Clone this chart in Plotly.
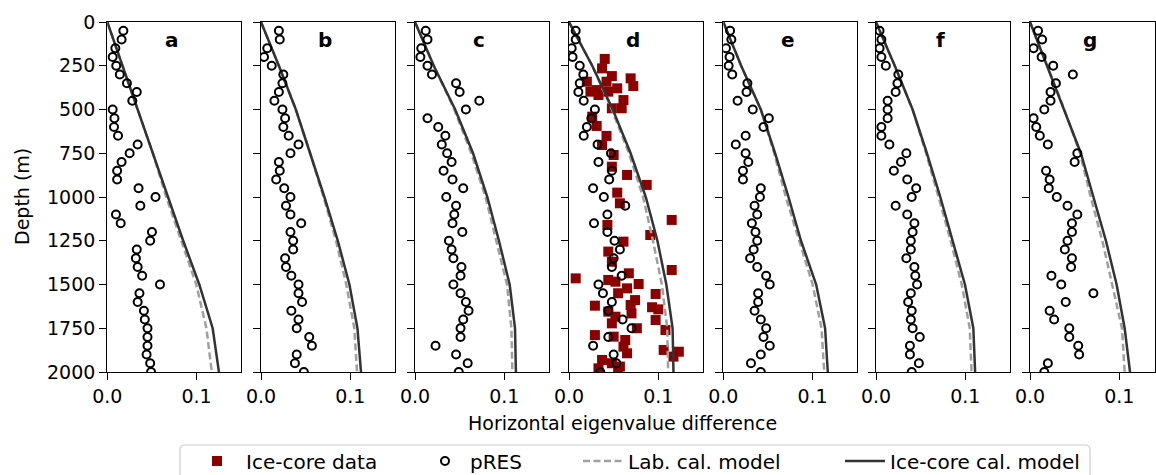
import plotly.graph_objects as go

# ---------------- data ----------------
panel_labels = ["a", "b", "c", "d", "e", "f", "g"]

pres_depth = [50, 100, 150, 200, 250, 300, 350, 400, 450, 500,
              550, 600, 650, 700, 750, 800, 850, 900, 950, 1000,
              1050, 1100, 1150, 1200, 1250, 1300, 1350, 1400, 1450, 1500,
              1550, 1600, 1650, 1700, 1750, 1800, 1850, 1900, 1950, 2000]

pres_a = [0.018, 0.016, 0.009, 0.006, 0.010, 0.014, 0.022, 0.033, 0.028, 0.006,
          0.008, 0.0075, 0.012, 0.034, 0.025, 0.016, 0.011, 0.011, 0.035, 0.054,
          0.037, 0.0097, 0.015, 0.050, 0.048, 0.033, 0.032, 0.034, 0.039, 0.059,
          0.036, 0.034, 0.041, 0.042, 0.045, 0.045, 0.045, 0.044, 0.048, 0.049]
pres_b = [0.020, 0.021, 0.007, 0.0034, 0.012, 0.025, 0.024, 0.020, 0.015, 0.024,
          0.027, 0.025, 0.031, 0.042, 0.033, 0.020, 0.021, 0.017, 0.026, 0.033,
          0.028, 0.033, 0.045, 0.033, 0.036, 0.036, 0.027, 0.028, 0.034, 0.042,
          0.042, 0.046, 0.034, 0.042, 0.040, 0.054, 0.057, 0.040, 0.038, 0.048]
pres_c = [0.012, 0.014, 0.007, 0.006, 0.014, 0.019, 0.046, 0.050, 0.072, 0.057,
          0.014, 0.026, 0.034, 0.030, 0.036, 0.041, 0.032, 0.042, 0.054, 0.035,
          0.046, 0.044, 0.042, 0.053, 0.038, 0.041, 0.043, 0.052, 0.051, 0.043,
          0.051, 0.057, 0.060, 0.054, 0.051, 0.051, 0.023, 0.046, 0.059, 0.049]
pres_d = [0.0075, 0.0075, 0.003, 0.004, 0.012, 0.016, 0.012, 0.0105, 0.0165, 0.029,
          0.025, 0.020, 0.0165, 0.032, 0.047, 0.033, 0.048, 0.045, 0.027, 0.039,
          0.063, 0.043, 0.028, 0.043, 0.051, 0.057, 0.050, 0.048, 0.059, 0.033,
          0.038, 0.048, 0.044, 0.060, 0.070, 0.044, 0.027, 0.050, 0.053, 0.035]
pres_e = [0.0076, 0.009, 0.003, 0.007, 0.006, 0.010, 0.027, 0.026, 0.016, 0.033,
          0.051, 0.045, 0.025, 0.014, 0.025, 0.028, 0.022, 0.022, 0.042, 0.041,
          0.035, 0.038, 0.032, 0.036, 0.038, 0.034, 0.030, 0.038, 0.048, 0.052,
          0.039, 0.039, 0.035, 0.042, 0.048, 0.045, 0.052, 0.042, 0.031, 0.042]
pres_f = [0.004, 0.006, 0.004, 0.006, 0.011, 0.025, 0.024, 0.022, 0.013, 0.013,
          0.013, 0.006, 0.006, 0.015, 0.034, 0.028, 0.020, 0.035, 0.045, 0.040,
          0.022, 0.035, 0.043, 0.041, 0.039, 0.039, 0.034, 0.043, 0.044, 0.046,
          0.039, 0.036, 0.040, 0.039, 0.041, 0.049, 0.038, 0.038, 0.048, 0.040]
pres_g = [0.009, 0.0136, 0.004, 0.013, 0.026, 0.048, 0.029, 0.023, 0.023, 0.016,
          0.004, 0.007, 0.011, 0.020, 0.053, 0.050, 0.018, 0.022, 0.021, 0.030,
          0.042, 0.053, 0.047, 0.047, 0.042, 0.039, 0.047, 0.046, 0.024, 0.035,
          0.071, 0.040, 0.022, 0.027, 0.044, 0.044, 0.054, 0.055, 0.020, 0.016]

# ice-core measurements (panel d only)
core_depth = [211, 265, 309, 322, 341, 341, 366, 379, 389, 398,
              398, 417, 446, 493, 493, 541, 594, 651, 703, 760,
              827, 874, 931, 975, 1036, 1131, 1160, 1217, 1255, 1312,
              1370, 1417, 1436, 1465, 1474, 1484, 1497, 1522, 1550, 1554,
              1589, 1617, 1621, 1630, 1642, 1655, 1665, 1684, 1703, 1722,
              1750, 1760, 1789, 1798, 1817, 1855, 1874, 1884, 1893, 1912,
              1931, 1950, 1969, 1979, 1990]
core_value = [0.040, 0.037, 0.048, 0.069, 0.020, 0.042, 0.072, 0.054, 0.031, 0.024,
              0.044, 0.033, 0.061, 0.059, 0.048, 0.026, 0.031, 0.042, 0.037, 0.050,
              0.048, 0.065, 0.087, 0.054, 0.057, 0.115, 0.043, 0.091, 0.061, 0.044,
              0.048, 0.115, 0.067, 0.0075, 0.044, 0.052, 0.078, 0.065, 0.055, 0.097,
              0.074, 0.069, 0.029, 0.093, 0.100, 0.044, 0.070, 0.052, 0.097, 0.048,
              0.076, 0.108, 0.029, 0.050, 0.063, 0.061, 0.106, 0.123, 0.065, 0.117,
              0.037, 0.048, 0.057, 0.033, 0.055]

model_depth = [0, 250, 500, 750, 1000, 1250, 1500, 1750, 2000]
icecal_a = [0, 0.017, 0.034, 0.051, 0.068, 0.085, 0.103, 0.118, 0.125]
labcal_a = [0, 0.017, 0.034, 0.051, 0.066, 0.0825, 0.0996, 0.111, 0.117]
icecal_b = [0, 0.020, 0.039, 0.055, 0.071, 0.086, 0.099, 0.108, 0.112]
labcal_b = [0, 0.020, 0.039, 0.055, 0.070, 0.084, 0.0955, 0.1045, 0.1075]
icecal_c = [0, 0.021, 0.045, 0.065, 0.081, 0.094, 0.106, 0.112, 0.113]
labcal_c = [0, 0.021, 0.044, 0.063, 0.079, 0.091, 0.103, 0.108, 0.109]
icecal_d = [0, 0.026, 0.049, 0.069, 0.086, 0.099, 0.109, 0.116, 0.117]
labcal_d = [0, 0.026, 0.048, 0.067, 0.083, 0.094, 0.104, 0.110, 0.111]
icecal_e = [0, 0.020, 0.042, 0.058, 0.073, 0.087, 0.104, 0.114, 0.117]
labcal_e = [0, 0.020, 0.042, 0.057, 0.070, 0.085, 0.100, 0.110, 0.113]
icecal_f = [0, 0.021, 0.041, 0.057, 0.072, 0.086, 0.0996, 0.109, 0.111]
labcal_f = [0, 0.021, 0.041, 0.056, 0.070, 0.0836, 0.096, 0.105, 0.107]
icecal_g = [0, 0.019, 0.0385, 0.057, 0.071, 0.085, 0.097, 0.106, 0.112]
labcal_g = [0, 0.019, 0.0385, 0.056, 0.068, 0.081, 0.092, 0.103, 0.106]

pres_all = [pres_a, pres_b, pres_c, pres_d, pres_e, pres_f, pres_g]
icecal_all = [icecal_a, icecal_b, icecal_c, icecal_d, icecal_e, icecal_f, icecal_g]
labcal_all = [labcal_a, labcal_b, labcal_c, labcal_d, labcal_e, labcal_f, labcal_g]

depth_ticks = [0, 250, 500, 750, 1000, 1250, 1500, 1750, 2000]
x_ticks = [0.0, 0.1]
x_ticktext = ["0.0", "0.1"]

# ---------------- styling / layout ----------------
W, H = 1156, 475
FONT = "DejaVu Sans"
FS = 19
RED = "#8b0000"
DARK = "#333333"
GREY = "#a0a0a0"

panel_left = [107.3, 261, 415, 569, 723.3, 876, 1030]
panel_w = 134
px_per_unit = 893.0
y_top, y_bot = 22, 372

fig = go.Figure()

for i in range(7):
    xa = "x" if i == 0 else f"x{i+1}"
    ya = "y" if i == 0 else f"y{i+1}"
    is_d = (i == 3)
    if is_d:
        fig.add_trace(go.Scatter(
            x=core_value, y=core_depth, xaxis=xa, yaxis=ya, mode="markers",
            marker=dict(symbol="square", size=10, color=RED, line=dict(width=0)),
            name="Ice-core data", legend="legend", showlegend=True))
    fig.add_trace(go.Scatter(
        x=labcal_all[i], y=model_depth, xaxis=xa, yaxis=ya, mode="lines",
        line=dict(color=GREY, width=2.5, dash="7px,3.5px"),
        name="Lab. cal. model", legend="legend3", showlegend=is_d))
    fig.add_trace(go.Scatter(
        x=icecal_all[i], y=model_depth, xaxis=xa, yaxis=ya, mode="lines",
        line=dict(color=DARK, width=2.5),
        name="Ice-core cal. model", legend="legend4", showlegend=is_d))
    fig.add_trace(go.Scatter(
        x=pres_all[i], y=pres_depth, xaxis=xa, yaxis=ya, mode="markers",
        marker=dict(symbol="circle", size=8, color="rgba(0,0,0,0)",
                    line=dict(color="black", width=2)),
        name="pRES", legend="legend2", showlegend=is_d))

ydom = [(H - y_bot) / H, (H - y_top) / H]
for i in range(7):
    left = panel_left[i]
    right = min(left + panel_w, W - 1)
    xmax = (right - left) / px_per_unit
    xkey = "xaxis" if i == 0 else f"xaxis{i+1}"
    ykey = "yaxis" if i == 0 else f"yaxis{i+1}"
    xa_anchor = "y" if i == 0 else f"y{i+1}"
    ya_anchor = "x" if i == 0 else f"x{i+1}"
    fig.layout[xkey] = dict(
        domain=[left / W, right / W], anchor=xa_anchor, range=[0, xmax],
        tickvals=x_ticks, ticktext=x_ticktext, ticks="outside", ticklen=7,
        tickwidth=1.3, tickcolor="black", showline=True, linecolor="black",
        linewidth=1.3, mirror=True, showgrid=False, zeroline=False,
        tickfont=dict(family=FONT, size=FS, color="black"))
    fig.layout[ykey] = dict(
        domain=ydom, anchor=ya_anchor, range=[2000, 0],
        tickvals=depth_ticks, ticks="outside", ticklen=7, tickwidth=1.3,
        tickcolor="black", showline=True, linecolor="black", linewidth=1.3,
        mirror=True, showgrid=False, zeroline=False, showticklabels=(i == 0),
        tickfont=dict(family=FONT, size=FS, color="black"))

annotations = []
for i in range(7):
    xref = "x domain" if i == 0 else f"x{i+1} domain"
    yref = "y domain" if i == 0 else f"y{i+1} domain"
    annotations.append(dict(text=f"<b>{panel_labels[i]}</b>", x=0.48, y=0.95,
                            xref=xref, yref=yref, xanchor="center", yanchor="middle",
                            showarrow=False, font=dict(family=FONT, size=FS + 1, color="black")))
annotations.append(dict(text="Depth (m)", x=22 / W, y=(H - 197) / H, xref="paper", yref="paper",
                        textangle=-90, xanchor="center", yanchor="middle", showarrow=False,
                        font=dict(family=FONT, size=FS, color="black")))
annotations.append(dict(text="Horizontal eigenvalue difference", x=622 / W, y=(H - 423) / H,
                        xref="paper", yref="paper", xanchor="center", yanchor="middle",
                        showarrow=False, font=dict(family=FONT, size=FS, color="black")))

# legend frame (rounded top corners, bottom runs off the figure)
def px(x):
    return x / W
def py(y):
    return (H - y) / H
x0, x1, yt, yb, r = 180, 1090, 445, 490, 5
frame = (f"M {px(x0)},{py(yb)} L {px(x0)},{py(yt + r)} Q {px(x0)},{py(yt)} {px(x0 + r)},{py(yt)} "
         f"L {px(x1 - r)},{py(yt)} Q {px(x1)},{py(yt)} {px(x1)},{py(yt + r)} L {px(x1)},{py(yb)}")

legend_common = dict(orientation="h", yanchor="middle", xanchor="left",
                     bgcolor="rgba(0,0,0,0)", borderwidth=0,
                     font=dict(family=FONT, size=FS + 1, color="black"))
leg_y = py(461)
fig.update_layout(
    width=W, height=H,
    margin=dict(l=0, r=0, t=0, b=0, autoexpand=False),
    paper_bgcolor="white", plot_bgcolor="white",
    annotations=annotations,
    shapes=[dict(type="path", path=frame, xref="paper", yref="paper",
                 line=dict(color="#cccccc", width=1.2), layer="above")],
    legend=dict(x=px(246 - 58), y=leg_y, itemwidth=48, **legend_common),
    legend2=dict(x=px(470 - 50), y=leg_y, itemwidth=40, **legend_common),
    legend3=dict(x=px(628 - 50), y=leg_y, itemwidth=40, **legend_common),
    legend4=dict(x=px(890 - 50), y=leg_y, itemwidth=40, **legend_common),
)

fig.write_html("out.html",
               config={"displayModeBar": False},
               post_script="document.body.style.margin='0';document.body.style.overflow='hidden';")
